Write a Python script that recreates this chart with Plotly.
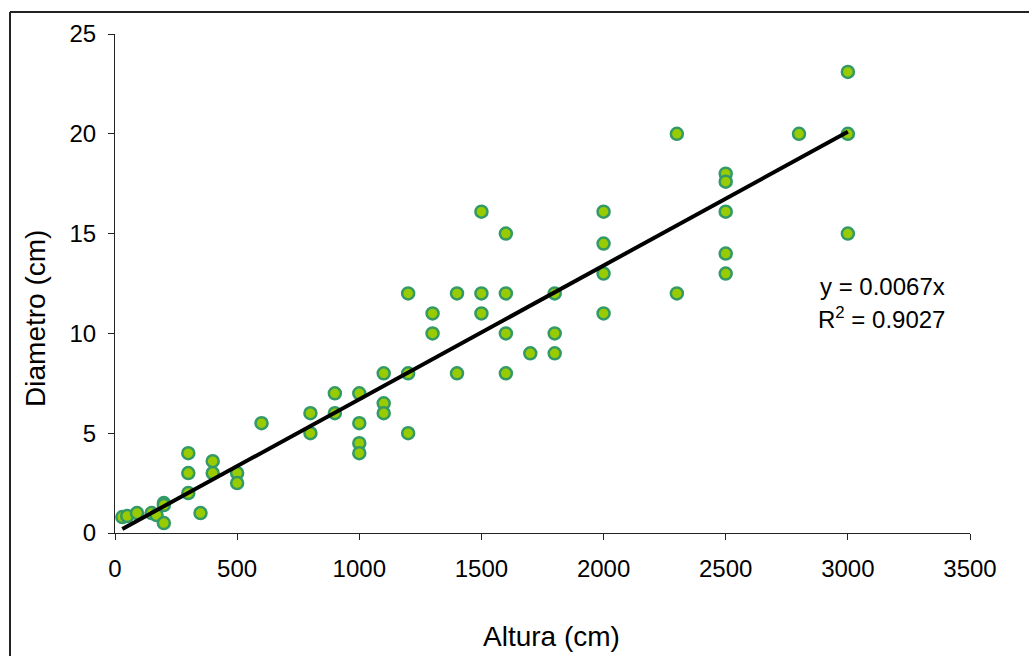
import plotly.graph_objects as go

# Altura (cm) vs Diametro (cm) measurements
altura = [30, 50, 90, 150, 170, 200, 200, 200, 300, 300, 300, 350, 400, 400,
          500, 500, 600, 800, 800, 900, 900, 1000, 1000, 1000, 1000, 1100, 1100,
          1100, 1200, 1200, 1200, 1300, 1300, 1400, 1400, 1500, 1500, 1500, 1600,
          1600, 1600, 1600, 1700, 1800, 1800, 1800, 2000, 2000, 2000, 2000, 2300,
          2300, 2500, 2500, 2500, 2500, 2500, 2800, 3000, 3000, 3000]
diametro = [0.8, 0.85, 1.0, 1.0, 0.9, 1.5, 1.4, 0.5, 4.0, 3.0, 2.0, 1.0, 3.6, 3.0,
            3.0, 2.5, 5.5, 6.0, 5.0, 7.0, 6.0, 7.0, 5.5, 4.5, 4.0, 8.0, 6.5,
            6.0, 12.0, 8.0, 5.0, 11.0, 10.0, 12.0, 8.0, 16.1, 12.0, 11.0, 15.0,
            12.0, 10.0, 8.0, 9.0, 12.0, 10.0, 9.0, 16.1, 14.5, 13.0, 11.0, 20.0,
            12.0, 18.0, 17.6, 16.1, 14.0, 13.0, 20.0, 23.1, 20.0, 15.0]

# Linear trend through the origin
slope = 0.0067
r2 = 0.9027
trend_x = [min(altura), max(altura)]
trend_y = [slope * v for v in trend_x]

x_ticks = [0, 500, 1000, 1500, 2000, 2500, 3000, 3500]
y_ticks = [0, 5, 10, 15, 20, 25]

FONT = "Liberation Sans, Arial, sans-serif"

fig = go.Figure()
fig.add_trace(go.Scatter(
    x=altura, y=diametro, mode="markers",
    marker=dict(size=12, color="#99CC00", line=dict(color="#339966", width=2.5)),
    showlegend=False, cliponaxis=False,
))
fig.add_trace(go.Scatter(
    x=trend_x, y=trend_y, mode="lines",
    line=dict(color="black", width=4),
    showlegend=False,
))

axis_common = dict(
    showgrid=False, zeroline=False, showline=True, linecolor="#222222", linewidth=1,
    ticks="outside", ticklen=6, tickcolor="#222222", tickwidth=1,
    tickfont=dict(family=FONT, size=24, color="black"),
)
fig.update_xaxes(range=[0, 3500], tickvals=x_ticks, ticklabelstandoff=8, **axis_common)
fig.update_yaxes(range=[0, 25], tickvals=y_ticks, ticklabelstandoff=7, **axis_common)

fig.update_layout(
    width=1029, height=656,
    margin=dict(l=115, r=59, t=34, b=123),
    plot_bgcolor="white", paper_bgcolor="white",
    font=dict(family=FONT, color="black"),
    annotations=[
        dict(text="Altura (cm)", xref="paper", yref="paper", x=0.5105, y=-0.207,
             xanchor="center", yanchor="middle", showarrow=False,
             font=dict(size=28, family=FONT, color="black")),
        dict(text="Diametro (cm)", xref="paper", yref="paper", x=-0.093, y=0.43,
             xanchor="center", yanchor="middle", textangle=-90, showarrow=False,
             font=dict(size=28, family=FONT, color="black")),
        dict(text=f"y = {slope}x", xref="paper", yref="paper", x=0.973, y=0.493,
             xanchor="right", yanchor="middle", showarrow=False,
             font=dict(size=24, family=FONT, color="black")),
        dict(text=f"R<sup>2</sup> = {r2}", xref="paper", yref="paper", x=0.973, y=0.431,
             xanchor="right", yanchor="middle", showarrow=False,
             font=dict(size=24, family=FONT, color="black")),
    ],
    shapes=[
        # outer chart frame (left and top edges)
        dict(type="line", xref="paper", yref="paper", x0=-0.1228, x1=-0.1228,
             y0=1.044, y1=-0.3, line=dict(color="#222222", width=2)),
        dict(type="line", xref="paper", yref="paper", x0=-0.1228, x1=1.1,
             y0=1.044, y1=1.044, line=dict(color="#222222", width=2)),
    ],
)

fig.write_html("out.html")
